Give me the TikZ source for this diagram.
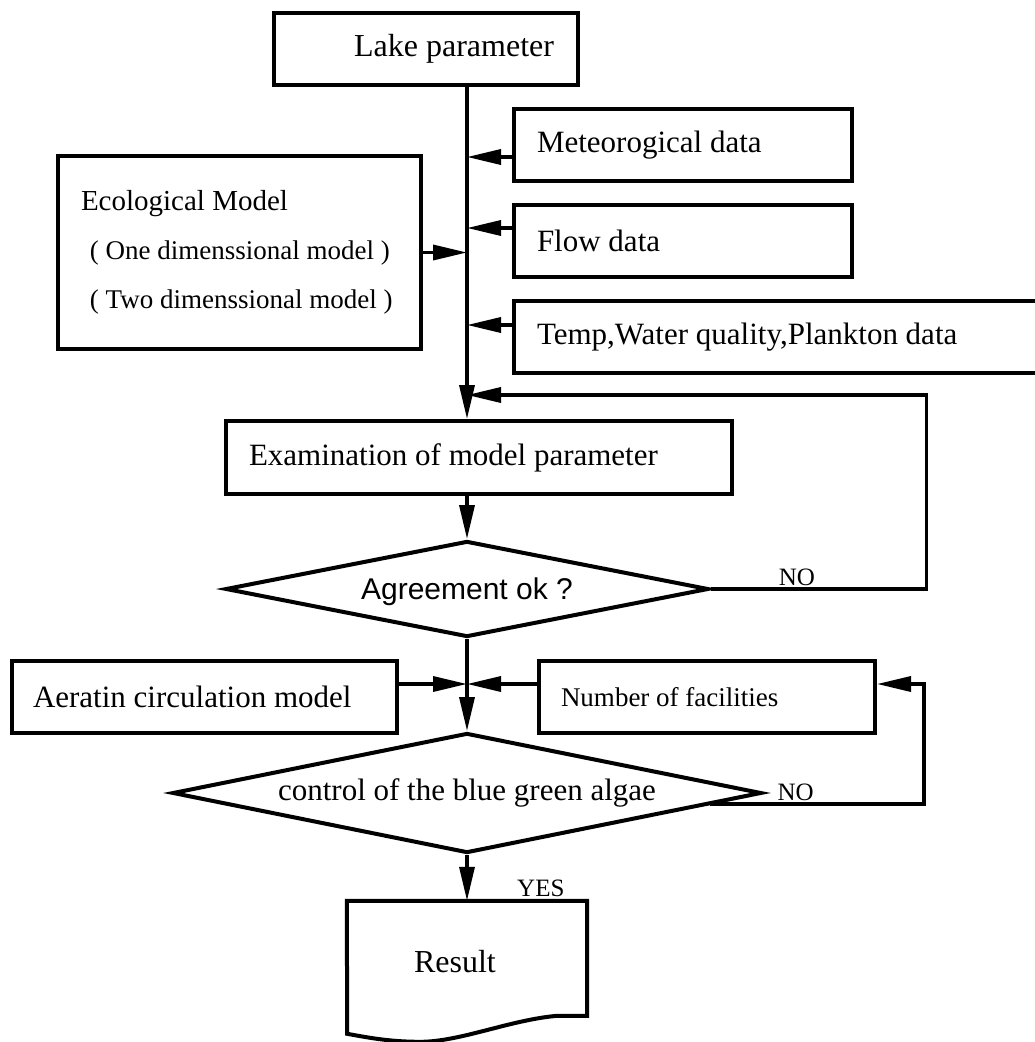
\documentclass[tikz,border=0pt]{standalone}
\usepackage{fontspec}
\setmainfont{Liberation Serif}
\newfontfamily\agrfont{Liberation Sans}
\usepackage{tikz}
\usetikzlibrary{arrows.meta,calc,positioning,shapes.geometric}

\tikzset{
  box/.style={draw, rectangle, line width=4pt, inner ysep=0pt, minimum height=72pt, align=flush left, font=\fontsize{31}{36}\selectfont},
  decision/.style={draw, diamond, line width=4pt, inner sep=0pt},
  conn/.style={line width=3.5pt, -{Triangle[length=34pt,width=15pt]}},
  lbl/.style={font=\fontsize{25}{30}\selectfont, inner sep=2pt}
}

\begin{document}
\begin{tikzpicture}[x=1pt, y=-1pt]
    \useasboundingbox (0,0) rectangle (1034,1042);

    \node[box, text width=256pt, inner xsep=24pt, align=flush right, font=\fontsize{32}{36}\selectfont] (lake) at (426,49) {Lake parameter};
    \node[box, text width=292pt, inner xsep=23pt] (meteo) at (683,145) {Meteorogical data};
    \node[box, text width=292pt, inner xsep=23pt] (flowd) at (683,241) {Flow data};
    \node[box, text width=484pt, inner xsep=23pt] (temp) at (779,337) {Temp,Water quality,Plankton data};
    \node[box, text width=317pt, inner xsep=23pt, minimum height=193pt, font=\fontsize{29}{49}\selectfont] (eco) at (239.5,252.5)
        {Ecological Model\\ \hspace*{9pt}{\fontsize{27}{49}\selectfont( One dimenssional model )}\\ \hspace*{9pt}{\fontsize{27}{49}\selectfont( Two dimenssional model )}};
    \node[box, text width=460pt, inner xsep=23pt, minimum height=73pt] (exam) at (479,457.5) {Examination of model parameter};
    \node[decision, aspect=5.03, minimum width=483pt, minimum height=96pt, text depth=0pt, font=\agrfont\fontsize{30}{34}\selectfont] (agree) at (467,589) {Agreement ok ?};
    \node[box, text width=343pt, inner xsep=21pt] (aer) at (204.5,697) {Aeratin circulation model};
    \node[box, text width=292pt, inner xsep=22pt, font=\fontsize{27}{32}\selectfont] (num) at (707,697) {Number of facilities};
    \node[decision, aspect=4.91, minimum width=589pt, minimum height=120pt, font=\fontsize{31}{36}\selectfont] (ctrl) at (467,793) {control of the blue green algae};
    \node[text width=106pt, inner xsep=67pt, inner ysep=0pt, align=flush left, minimum height=122pt, font=\fontsize{32}{36}\selectfont] (res) at (467,962) {Result};
    \draw[line width=4pt] (res.north west) -- (res.north east) -- ([yshift=-115pt]res.north east) -- ++(-30,0)
        .. controls +(-47,4) and +(40,0) .. ++(-137,26) .. controls +(-30,0) and +(22,4) .. ++(-73,-8) -- cycle;

    \coordinate (top) at (agree.north |- lake.south);
    \draw[conn] (top) -- (agree.north |- exam.north);

    \foreach \src/\dy in {meteo/-12, flowd/13, temp/12}{
        \coordinate (in) at ([yshift=\dy pt]\src.west);
        \draw[conn] (in) -- (in -| top);
    }
    \draw[conn] (eco.east) -- (eco.east -| top);

    \draw[conn] (exam.south -| agree.north) -- (agree.north);
    \coordinate (back) at ($(agree.north |- exam.north)+(0,-24)$);
    \draw[conn] (agree.east) -- node[lbl, above, pos=0.4] {NO} ++(216,0) |- (back);

    \coordinate (ain) at ([yshift=13pt]aer.east);
    \draw[conn] (ain) -- (ain -| top);
    \coordinate (nin) at ([yshift=13pt]num.west);
    \draw[conn] (nin) -- (nin -| top);
    \draw[conn] (agree.south) -- (ctrl.north);

    \coordinate (cno) at ($(ctrl.east)!0.18!(ctrl.south)$);
    \draw[conn] (cno) -- node[lbl, above, pos=0.4] {NO} ++(214,0) |- ([yshift=13pt]num.east);

    \draw[conn] (ctrl.south) -- (res.north);
    \node[lbl, anchor=south west] (yes) at ([xshift=48pt, yshift=2pt]res.north) {YES};
\end{tikzpicture}
\end{document}
